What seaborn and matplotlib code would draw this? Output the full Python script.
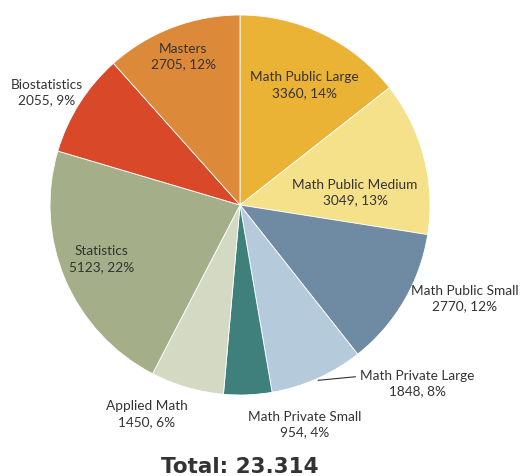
import matplotlib
matplotlib.use("Agg")
import matplotlib.pyplot as plt
import numpy as np
import seaborn as sns

sns.set_theme(style="white")
plt.rcParams["font.family"] = ["Lato", "DejaVu Sans"]

categories = ["Math Public Large", "Math Public Medium", "Math Public Small",
              "Math Private Large", "Math Private Small", "Applied Math",
              "Statistics", "Biostatistics", "Masters"]
counts = [3360, 3049, 2770, 1848, 954, 1450, 5123, 2055, 2705]
colors = ["#EAB335", "#F4E18A", "#6F8BA4", "#B5CADB", "#3F807D",
          "#D4D9C3", "#A4AF89", "#D84829", "#DC8A3A"]

# label placement: radius (in pie radii) and angle nudge (deg) per wedge
label_r = [0.72, 0.61, 1.28, 1.32, 1.20, 1.20, 0.78, 1.18, 0.84]
label_da = [-2, -8, 8, 21, 14, -8, -2, 2, 0]

R = 190.0
cx, cy = 240.0, 206.0
W, H = 525, 477

fig = plt.figure(figsize=(W / 100, H / 100), dpi=100)
ax = fig.add_axes([0, 0, 1, 1])

wedges, _ = ax.pie(counts, colors=colors, startangle=90, counterclock=False,
                   wedgeprops=dict(edgecolor="white", linewidth=0.6))

ax.set_xlim(-cx / R, (W - cx) / R)
ax.set_ylim(-(H - cy) / R, cy / R)
ax.set_aspect("equal")
ax.axis("off")

total = sum(counts)
for i, (w, name, n) in enumerate(zip(wedges, categories, counts)):
    mid = np.deg2rad((w.theta1 + w.theta2) / 2)
    pct = round(100 * n / total)
    txt = f"{name}\n{n}, {pct}%"
    ang = mid + np.deg2rad(label_da[i])
    tx, ty = label_r[i] * np.cos(ang), label_r[i] * np.sin(ang)
    if name == "Math Private Large":
        ax.annotate(txt, xy=(1.01 * np.cos(mid), 1.01 * np.sin(mid)),
                    xytext=(tx, ty), ha="center", va="center",
                    fontsize=9.8, color="#333333", linespacing=1.35,
                    arrowprops=dict(arrowstyle="-", color="#333333", lw=0.8,
                                    relpos=(0, 0.72), shrinkA=1, shrinkB=0))
    else:
        ax.text(tx, ty, txt, ha="center", va="center", fontsize=9.8,
                color="#333333", linespacing=1.35)

ax.text(0.0, -(467 - cy) / R, f"Total: {total:,}".replace(",", "."),
        ha="center", va="center", fontsize=15.5, fontweight="bold",
        color="#333333", family=["DejaVu Sans"])

fig.savefig("out.png", dpi=100)
